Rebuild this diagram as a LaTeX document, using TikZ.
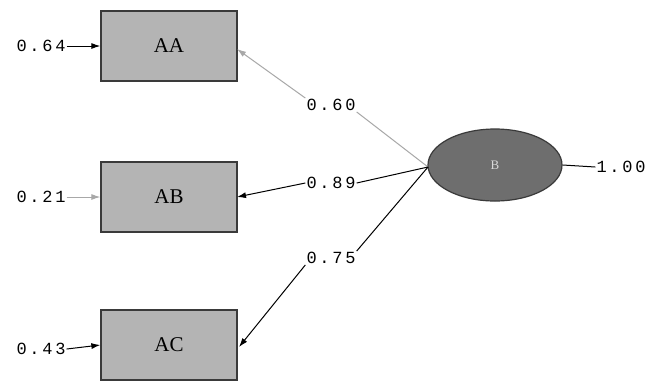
\documentclass[tikz,border=0pt]{standalone}
\usepackage{fontspec}
\setmainfont{Liberation Serif}
\newfontfamily\numfont[LetterSpace=16]{Liberation Mono}
\usetikzlibrary{arrows.meta,shapes.geometric}
\definecolor{boxfill}{HTML}{B4B4B4}
\definecolor{boxline}{HTML}{3A3A3A}
\definecolor{ellfill}{HTML}{6E6E6E}
\definecolor{lightarr}{HTML}{A8A8A8}
\tikzset{
  obs/.style={draw=boxline,line width=1.3pt,fill=boxfill,minimum width=136pt,minimum height=70pt,inner sep=0pt,font=\fontsize{21}{21}\selectfont},
  lat/.style={ellipse,draw=boxline,line width=1.2pt,fill=ellfill,minimum width=134pt,minimum height=72pt,inner sep=0pt,font=\fontsize{13}{13}\selectfont\color{white!85!black}},
  num/.style={inner sep=1pt,font=\numfont\fontsize{17}{17}\selectfont},
  arr/.style={line width=1pt,-{Latex[length=9pt,width=6pt]}},
  plain/.style={line width=1pt},
}
\begin{document}
\begin{tikzpicture}[x=1pt,y=-1pt]
\useasboundingbox[fill=white] (0,0) rectangle (650,384);
\node[obs] (AA) at (169,46) {AA};
\node[obs] (AB) at (169,197) {AB};
\node[obs] (AC) at (169,345) {AC};
\node[lat] (B) at (495,165) {B};
\node[num] (eAA) at (41,46) {0.64};
\node[num] (eAB) at (41,197) {0.21};
\node[num] (eAC) at (41,349) {0.43};
\node[num] (vB) at (621,167) {1.00};
\node[num] (lAA) at (331,105) {0.60};
\node[num] (lAB) at (331,183) {0.89};
\node[num] (lAC) at (331,258) {0.75};
\coordinate (s) at (428,167);
\draw[arr] (eAA.east) -- (AA.west);
\draw[arr,draw=lightarr] (eAB.east) -- (AB.west);
\draw[arr] (eAC.east) -- (AC.west);
\draw[plain] (B.east) -- (vB.west);
\draw[plain,draw=lightarr] (s) -- (lAA.south east);
\draw[arr,draw=lightarr] (lAA.north west) -- (237,49);
\draw[plain] (s) -- (lAB.east);
\draw[arr] (lAB.west) -- (237,197);
\draw[plain] (s) -- (lAC.north east);
\draw[arr] (lAC.south west) -- (239,347);
\end{tikzpicture}
\end{document}
